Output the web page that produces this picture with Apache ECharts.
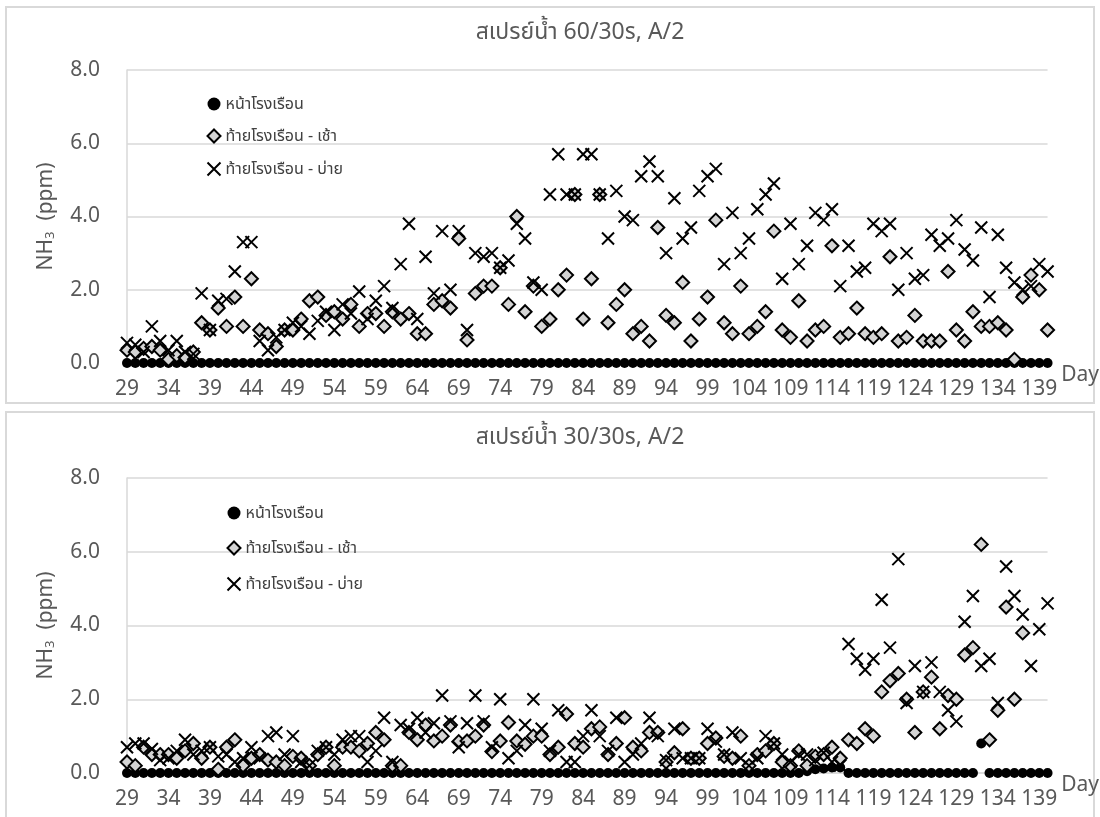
<!DOCTYPE html>
<html>
<head>
<meta charset="utf-8">
<script src="https://cdn.jsdelivr.net/npm/echarts/dist/echarts.min.js"></script>
<style>
html,body{margin:0;padding:0;background:#fff;}
#chart{width:1100px;height:817px;}
</style>
</head>
<body>
<div id="chart"></div>
<script>
// ---- data ----
const days = [29,30,31,32,33,34,35,36,37,38,39,40,41,42,43,44,45,46,47,48,49,50,51,52,53,54,55,56,57,58,59,60,61,62,63,64,65,66,67,68,69,70,71,72,73,74,75,76,77,78,79,80,81,82,83,84,85,86,87,88,89,90,91,92,93,94,95,96,97,98,99,100,101,102,103,104,105,106,107,108,109,110,111,112,113,114,115,116,117,118,119,120,121,122,123,124,125,126,127,128,129,130,131,132,133,134,135,136,137,138,139,140];
const seriesNames = ['หน้าโรงเรือน', 'ท้ายโรงเรือน - เช้า', 'ท้ายโรงเรือน - บ่าย'];
const titles = ['สเปรย์น้ำ 60/30s, A/2', 'สเปรย์น้ำ 30/30s, A/2'];
const yTicks = [0, 2, 4, 6, 8];

// Panel 1: 60/30s
const p1Front = [0,0,0,0,0,0,0,0,0,0,0,0,0,0,0,0,0,0,0,0,0,0,0,0,0,0,0,0,0,0,0,0,0,0,0,0,0,0,0,0,0,0,0,0,0,0,0,0,0,0,0,0,0,0,0,0,0,0,0,0,0,0,0,0,0,0,0,0,0,0,0,0,0,0,0,0,0,0,0,0,0,0,0,0,0,0,0,0,0,0,0,0,0,0,0,0,0,0,0,0,0,0,0,0,0,0,0,0,0,0,0,0];
const p1Morning = [0.35,0.3,0.4,0.45,0.35,0.1,0.2,0.15,0.3,1.1,
  0.9,1.5,1.0,1.8,1.0,2.3,0.9,0.8,0.45,0.9,
  0.9,1.2,1.7,1.8,1.3,1.4,1.2,1.6,1.0,1.35,
  1.35,1.0,1.4,1.2,1.35,0.8,0.8,1.6,1.7,1.5,
  3.4,0.63,1.9,2.1,2.1,2.6,1.6,4.0,1.4,2.1,
  1.0,1.2,2.0,2.4,4.6,1.2,2.3,4.6,1.1,1.6,
  2.0,0.8,1.0,0.6,3.7,1.3,1.1,2.2,0.6,1.2,
  1.8,3.9,1.1,0.8,2.1,0.8,1.0,1.4,3.6,0.9,
  0.7,1.7,0.6,0.9,1.0,3.2,0.7,0.8,1.5,0.8,
  0.7,0.8,2.9,0.6,0.7,1.3,0.6,0.6,0.6,2.5,
  0.9,0.6,1.4,1.0,1.0,1.1,0.9,0.1,1.8,2.4,
  2.0,0.9];
const p1Afternoon = [0.55,0.5,0.3,1.0,0.6,0.35,0.6,0.3,0.25,1.9,
  0.9,1.7,1.75,2.5,3.3,3.3,0.6,0.35,0.7,0.9,
  1.1,1.0,0.8,1.15,1.4,0.9,1.6,1.35,1.95,1.2,
  1.7,2.1,1.5,2.7,3.8,1.2,2.9,1.9,3.6,2.0,
  3.6,0.9,3.0,2.9,3.0,2.6,2.8,3.8,3.4,2.2,
  2.0,4.6,5.7,4.6,4.6,5.7,5.7,4.6,3.4,4.7,
  4.0,3.9,5.1,5.5,5.1,3.0,4.5,3.4,3.7,4.7,
  5.1,5.3,2.7,4.1,3.0,3.4,4.2,4.6,4.9,2.3,
  3.8,2.7,3.2,4.1,3.9,4.2,2.1,3.2,2.5,2.6,
  3.8,3.6,3.8,2.0,3.0,2.3,2.4,3.5,3.2,3.4,
  3.9,3.1,2.8,3.7,1.8,3.5,2.6,2.2,2.0,2.1,
  2.7,2.5];

// Panel 2: 30/30s
const p2Front = [0,0,0,0,0,0,0,0,0,0,
  0,0,0,0,0,0,0,0,0,0,
  0,0,0,0,0,0,0,0,0,0,
  0,0,0,0,0,0,0,0,0,0,
  0,0,0,0,0,0,0,0,0,0,
  0,0,0,0,0,0,0,0,0,0,
  0,0,0,0,0,0,0,0,0,0,
  0,0,0,0,0,0,0,0,0,0,
  0,0,0.05,0.1,0.12,0.15,0.15,0,0,0,
  0,0,0,0,0,0,0,0,0,0,
  0,0,0,0.8,0,0,0,0,0,0,
  0,0];
const p2Morning = [0.3,0.2,0.7,0.5,0.5,0.5,0.4,0.6,0.8,0.4,
  0.7,0.1,0.7,0.9,0.2,0.4,0.5,0.35,0.3,0.2,
  0.45,0.4,0.2,0.5,0.7,0.2,0.7,0.7,0.6,0.8,
  1.1,0.9,0.2,0.2,1.1,0.9,1.3,0.87,1.0,1.3,
  0.85,0.87,1.0,1.3,0.58,0.87,1.37,0.87,0.78,1.0,
  1.0,0.5,0.7,1.6,0.8,0.7,1.2,1.25,0.5,0.8,
  1.5,0.7,0.6,1.1,1.1,0.3,0.55,1.2,0.4,0.4,
  0.8,0.95,0.45,0.4,1.0,0.2,0.5,0.6,0.8,0.3,
  0.2,0.6,0.2,0.45,0.5,0.7,0.4,0.9,0.8,1.2,
  1.0,2.2,2.5,2.7,2.0,1.1,2.2,2.6,1.2,2.1,
  2.0,3.2,3.4,6.2,0.9,1.7,4.5,2.0,3.8,null,
  null,null];
const p2Afternoon = [0.7,0.8,0.8,0.65,0.35,0.4,0.6,0.9,0.5,0.6,
  0.7,0.45,0.5,0.3,0.4,0.7,0.4,1.0,1.1,0.5,
  1.0,0.3,0.2,0.6,0.7,0.5,0.9,1.0,1.0,0.3,
  0.6,1.5,0.3,1.3,1.2,1.5,1.1,1.35,2.1,1.4,
  0.7,1.35,2.1,1.4,0.7,2.0,0.4,0.6,1.3,2.0,
  1.2,0.6,1.7,0.3,0.3,1.0,1.7,1.0,0.6,1.5,
  0.3,0.5,0.8,1.5,1.0,0.35,1.2,0.4,0.4,0.4,
  1.2,0.85,0.5,1.1,0.4,0.2,0.4,1.0,0.8,0.5,
  0.3,0.5,0.5,0.35,0.55,0.3,0.2,3.5,3.1,2.8,
  3.1,4.7,3.4,5.8,1.9,2.9,2.2,3.0,2.2,1.7,
  1.4,4.1,4.8,2.9,3.1,1.9,5.6,4.8,4.3,2.9,
  3.9,4.6];

// ---- styles ----
const FONT = "'Noto Sans', 'Noto Sans Thai', 'DejaVu Sans', sans-serif";
const GREY = '#595959';
const CROSS = 'path://M0,0L10,10M0,10L10,0';

const chart = echarts.init(document.getElementById('chart'), null, {renderer: 'canvas'});

const grids = [
  {left: 127, right: 50, top: 70, height: 293},
  {left: 127, right: 50, top: 478, height: 295}
];

function xAxis(i) {
  return {
    type: 'category', gridIndex: i, data: days, boundaryGap: false,
    axisLine: {show: true, lineStyle: {color: '#d9d9d9', width: 1.5}},
    axisTick: {show: false},
    axisLabel: {interval: 4, color: GREY, fontSize: 21, fontFamily: FONT, margin: 16},
    splitLine: {show: false},
    name: 'Day', nameLocation: 'end', nameGap: 8,
    nameTextStyle: {color: GREY, fontSize: 21, fontFamily: FONT, verticalAlign: 'top', align: 'left', padding: [2, 0, 0, 0]}
  };
}
function yAxis(i) {
  return {
    type: 'value', gridIndex: i, min: yTicks[0], max: yTicks[yTicks.length - 1], interval: 2,
    axisLine: {show: true, lineStyle: {color: '#d9d9d9', width: 1.5}},
    axisTick: {show: false},
    axisLabel: {color: GREY, fontSize: 21, fontFamily: FONT, margin: 27, formatter: v => v.toFixed(1)},
    splitLine: {show: true, lineStyle: {color: '#d9d9d9', width: 1.5}},
    name: 'NH{sub|3}  (ppm)', nameLocation: 'middle', nameGap: 70, nameRotate: 90,
    nameTextStyle: {color: GREY, fontSize: 21, fontFamily: FONT,
      rich: {sub: {fontSize: 13, color: GREY, fontFamily: FONT, verticalAlign: 'bottom', padding: [8, 0, 0, 0]}}}
  };
}

function panelSeries(i, front, morning, afternoon) {
  return [
    {name: seriesNames[0], type: 'scatter', xAxisIndex: i, yAxisIndex: i, data: front, clip: false,
      symbol: 'circle', symbolSize: 10, itemStyle: {color: '#000', opacity: 1}, z: 2},
    {name: seriesNames[1], type: 'scatter', xAxisIndex: i, yAxisIndex: i, data: morning, clip: false,
      symbol: 'diamond', symbolSize: 13, itemStyle: {color: '#d4d4d4', borderColor: '#000', borderWidth: 2, opacity: 1}, z: 3},
    {name: seriesNames[2], type: 'scatter', xAxisIndex: i, yAxisIndex: i, data: afternoon, clip: false,
      symbol: CROSS, symbolSize: 12, itemStyle: {color: 'none', borderColor: '#000', borderWidth: 2, opacity: 1}, z: 4}
  ];
}

const legendBase = {
  orient: 'vertical', itemWidth: 13, itemHeight: 13,
  textStyle: {color: '#404040', fontSize: 16, fontFamily: FONT},
  data: seriesNames, selectedMode: false
};

chart.setOption({
  backgroundColor: '#fff',
  animation: false,
  title: [
    {text: titles[0], left: 575, top: 16, textAlign: 'center',
      textStyle: {color: GREY, fontSize: 23, fontWeight: 'normal', fontFamily: FONT}},
    {text: titles[1], left: 575, top: 421, textAlign: 'center',
      textStyle: {color: GREY, fontSize: 23, fontWeight: 'normal', fontFamily: FONT}}
  ],
  legend: [
    Object.assign({}, legendBase, {left: 200, top: 91, itemGap: 16}),
    Object.assign({}, legendBase, {left: 220, top: 500, itemGap: 19})
  ],
  grid: grids,
  xAxis: [xAxis(0), xAxis(1)],
  yAxis: [yAxis(0), yAxis(1)],
  graphic: [
    {type: 'rect', shape: {x: 6, y: 7, width: 1088, height: 396}, style: {fill: 'none', stroke: '#d9d9d9', lineWidth: 2}, silent: true},
    {type: 'rect', shape: {x: 6, y: 412, width: 1088, height: 420}, style: {fill: 'none', stroke: '#d9d9d9', lineWidth: 2}, silent: true}
  ],
  series: [].concat(
    panelSeries(0, p1Front, p1Morning, p1Afternoon),
    panelSeries(1, p2Front, p2Morning, p2Afternoon)
  )
});
</script>
</body>
</html>
